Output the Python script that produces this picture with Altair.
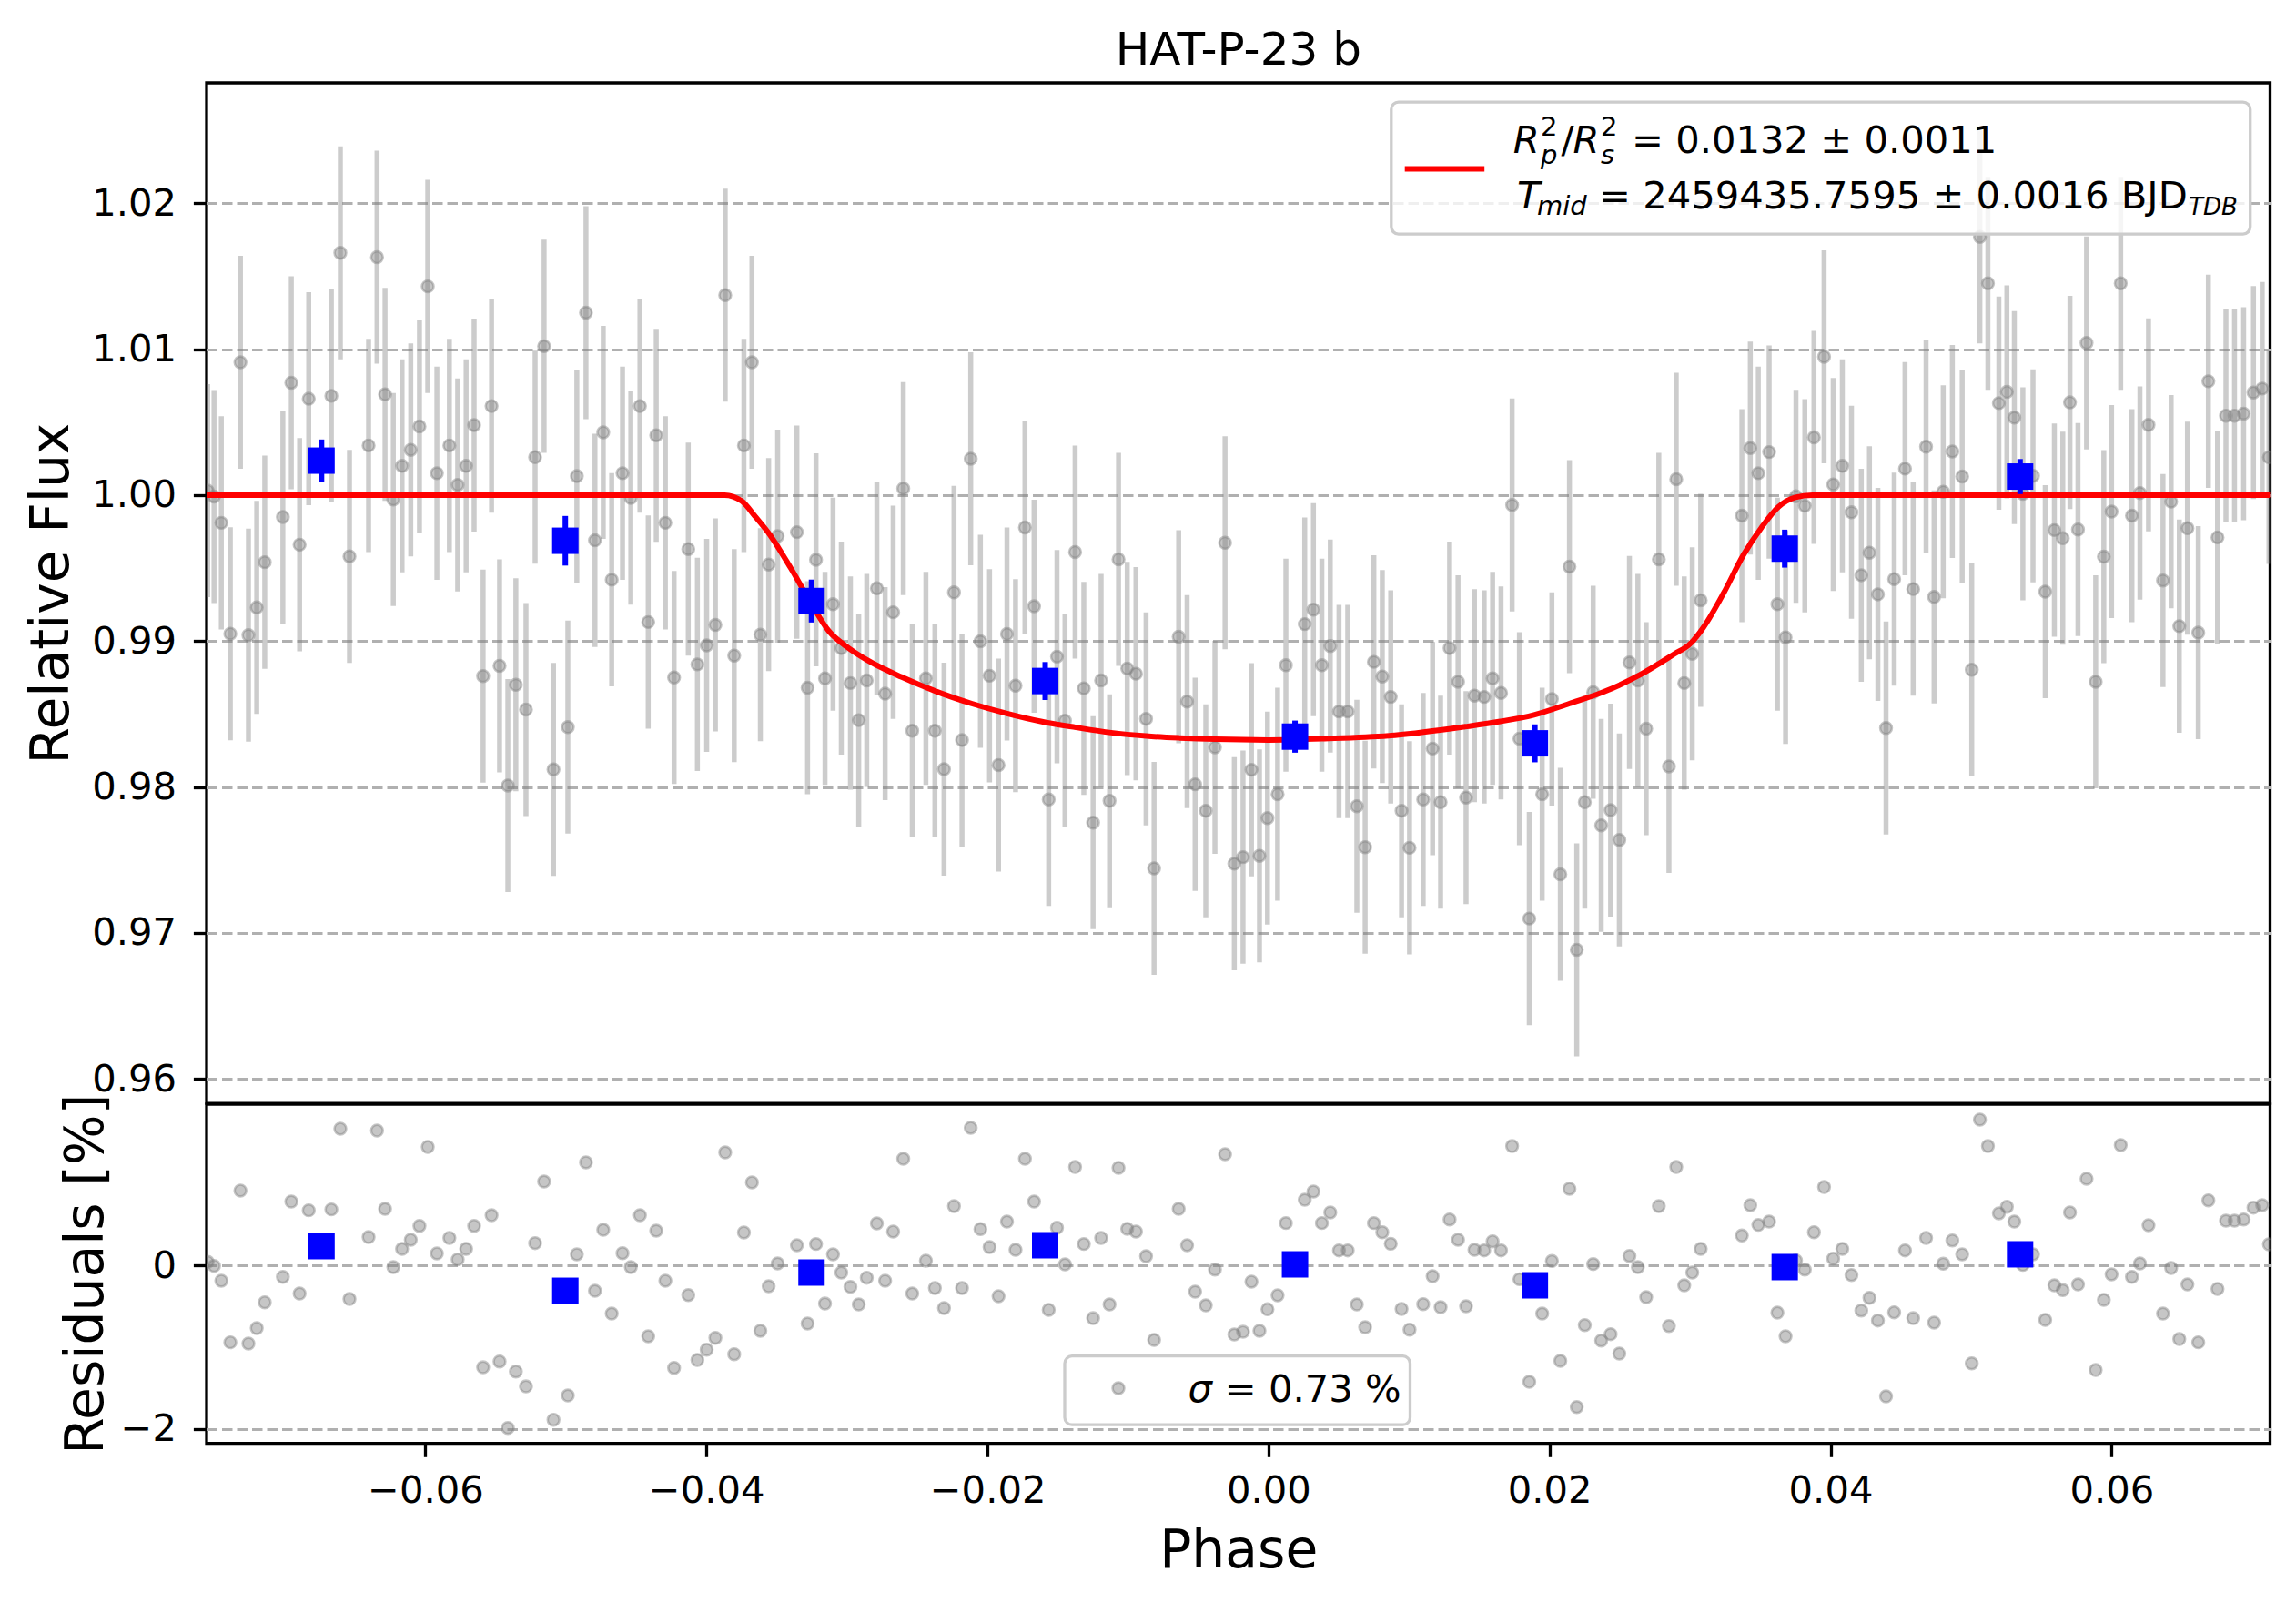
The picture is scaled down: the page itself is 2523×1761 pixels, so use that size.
import altair as alt
import pandas as pd

# ---------------- data ----------------
phase = [
    -0.07549, -0.07504, -0.07452, -0.07388, -0.07316, -0.07259, -0.07200, -0.07143, -0.07014, -0.06954,
    -0.06895, -0.06830, -0.06669, -0.06605, -0.06540, -0.06404, -0.06344, -0.06287, -0.06228, -0.06166,
    -0.06104, -0.06042, -0.05983, -0.05918, -0.05829, -0.05770, -0.05710, -0.05653, -0.05589, -0.05529,
    -0.05472, -0.05413, -0.05356, -0.05284, -0.05219, -0.05155, -0.05088, -0.04986, -0.04922, -0.04857,
    -0.04793, -0.04734, -0.04674, -0.04597, -0.04538, -0.04473, -0.04414, -0.04357, -0.04292, -0.04230,
    -0.04129, -0.04064, -0.03998, -0.03936, -0.03866, -0.03802,
    -0.03733, -0.03676, -0.03616, -0.03557, -0.03493, -0.03356, -0.03280, -0.03220, -0.03156, -0.03099,
    -0.03040, -0.02975, -0.02916, -0.02859, -0.02787, -0.02728, -0.02671, -0.02599, -0.02535, -0.02438,
    -0.02374, -0.02309, -0.02238, -0.02181, -0.02119, -0.02050, -0.01985, -0.01921, -0.01861, -0.01800,
    -0.01733, -0.01668, -0.01564, -0.01505, -0.01448, -0.01376, -0.01314, -0.01248, -0.01191, -0.01131,
    -0.01067, -0.01005, -0.00943, -0.00871, -0.00814, -0.00639, -0.00579, -0.00522, -0.00446, -0.00381,
    -0.00309, -0.00243, -0.00181, -0.00121, -0.00064, -0.00007,
    0.00065, 0.00124, 0.00258, 0.00320, 0.00380, 0.00440, 0.00502, 0.00564, 0.00629, 0.00688,
    0.00750, 0.00810, 0.00870, 0.00947, 0.01004, 0.01101, 0.01168, 0.01225, 0.01289, 0.01349,
    0.01406, 0.01466, 0.01535, 0.01595, 0.01655, 0.01734, 0.01786, 0.01856, 0.01948, 0.02017,
    0.02077, 0.02142, 0.02194, 0.02251, 0.02311, 0.02368, 0.02435, 0.02497, 0.02569, 0.02629,
    0.02688, 0.02778, 0.02850, 0.02902, 0.02959, 0.03016, 0.03076, 0.03369, 0.03429, 0.03486,
    0.03563, 0.03622, 0.03680,
    0.03754, 0.03817, 0.03882, 0.03954, 0.04019, 0.04084, 0.04149, 0.04219, 0.04277, 0.04337,
    0.04395, 0.04453, 0.04530, 0.04588, 0.04680, 0.04737, 0.04802, 0.04867, 0.04937, 0.05005,
    0.05063, 0.05120, 0.05198, 0.05255, 0.05308, 0.05369, 0.05441, 0.05528, 0.05593, 0.05653,
    0.05704, 0.05761, 0.05822, 0.05887, 0.05945, 0.06000, 0.06065, 0.06145, 0.06202, 0.06263,
    0.06366, 0.06424, 0.06482, 0.06540, 0.06617, 0.06689, 0.06754, 0.06814, 0.06875, 0.06940,
    0.07010, 0.07072, 0.07120,
]

flux = [
    1.0003, 0.9999, 0.9981, 0.9905, 1.0091, 0.9904, 0.9923, 0.9954, 0.9985, 1.0077,
    0.9966, 1.0066, 1.0068, 1.0166, 0.9958, 1.0034, 1.0163, 1.0069, 0.9997, 1.0020,
    1.0031, 1.0047, 1.0143, 1.0015, 1.0034, 1.0007, 1.0020, 1.0048, 0.9876, 1.0061,
    0.9883, 0.9801, 0.9870, 0.9853, 1.0026, 1.0102, 0.9812, 0.9841, 1.0013, 1.0125,
    0.9969, 1.0043, 0.9942, 1.0015, 0.9998, 1.0061, 0.9913, 1.0041, 0.9981, 0.9875,
    0.9963, 0.9884, 0.9897, 0.9911, 1.0137, 0.9890,
    1.0034, 1.0091, 0.99043, 0.99524, 0.99719, 0.99746, 0.98680, 0.99556, 0.98744, 0.99252,
    0.98952, 0.98712, 0.98458, 0.98730, 0.99361, 0.98639, 0.99197, 1.00045, 0.98385, 0.98744,
    0.98385, 0.98122, 0.99333, 0.98322, 1.00249, 0.98998, 0.98762, 0.98150, 0.99048, 0.98694,
    0.99778, 0.99238, 0.97914, 0.98893, 0.98454, 0.99610, 0.98676, 0.97755, 0.98730, 0.97905,
    0.99560, 0.98812, 0.98776, 0.98467, 0.97442, 0.99029, 0.98585, 0.98018, 0.97837, 0.98272,
    0.99673, 0.97474, 0.97519, 0.98118, 0.97528, 0.97787,
    0.97950, 0.98834, 0.99116, 0.99215, 0.98834, 0.98966, 0.98517, 0.98517, 0.97868, 0.97587,
    0.98857, 0.98757, 0.98617, 0.97837, 0.97583, 0.97914, 0.98263, 0.97896, 0.98952, 0.98721,
    0.97927, 0.98626, 0.98617, 0.98744, 0.98644, 0.99932, 0.98331, 0.97098, 0.97950, 0.98603,
    0.97401, 0.99510, 0.96884, 0.97896, 0.98649, 0.97737, 0.97841, 0.97637, 0.98853, 0.98730,
    0.98399, 0.99560, 0.98141, 1.00109, 0.98712, 0.98912, 0.99279, 0.99859, 1.00322, 1.00150,
    1.00295, 0.99252, 0.99025,
    0.99991, 0.99927, 1.00395, 1.00948, 1.00073, 1.00200, 0.99882, 0.99451, 0.99605, 0.99320,
    0.98404, 0.99424, 1.00181, 0.99356, 1.00331, 0.99302, 1.00023, 1.00299, 1.00127, 0.98803,
    1.01769, 1.01451, 1.00630, 1.00707, 1.00531, 1.00009, 1.00132, 0.99338, 0.99760, 0.99705,
    1.00635, 0.99764, 1.01043, 0.98721, 0.99578, 0.99887, 1.01451, 0.99859, 1.00014, 1.00481,
    0.99415, 0.99955, 0.99102, 0.99773, 0.99057, 1.00780, 0.99710, 1.00544, 1.00544, 1.00558,
    1.00703, 1.00730, 1.00259,
]

resid = [
    0.041, -0.007, -0.189, -0.942, 0.913, -0.957, -0.768, -0.453, -0.141, 0.779,
    -0.345, 0.672, 0.683, 1.670, -0.412, 0.345, 1.647, 0.690, -0.022, 0.200,
    0.312, 0.482, 1.447, 0.145, 0.334, 0.071, 0.200, 0.482, -1.247, 0.612,
    -1.176, -1.989, -1.299, -1.481, 0.271, 1.024, -1.889, -1.592, 0.134, 1.258,
    -0.312, 0.434, -0.590, 0.148, -0.022, 0.612, -0.868, 0.423, -0.189, -1.254,
    -0.364, -1.158, -1.032, -0.887, 1.380, -1.087,
    0.401, 1.013, -0.801, -0.256, 0.022, 0.245, -0.712, 0.260, -0.468, 0.134,
    -0.089, -0.263, -0.479, -0.152, 0.512, -0.189, 0.412, 1.302, -0.345, 0.056,
    -0.278, -0.523, 0.724, -0.278, 1.681, 0.442, 0.223, -0.378, 0.534, 0.189,
    1.302, 0.779, -0.545, 0.460, 0.011, 1.202, 0.260, -0.646, 0.334, -0.479,
    1.191, 0.445, 0.412, 0.111, -0.913, 0.690, 0.245, -0.323, -0.490, -0.052,
    1.358, -0.846, -0.813, -0.200, -0.801, -0.538,
    -0.367, 0.516, 0.801, 0.902, 0.516, 0.646, 0.182, 0.182, -0.479, -0.757,
    0.516, 0.404, 0.263, -0.534, -0.787, -0.475, -0.134, -0.512, 0.560, 0.312,
    -0.501, 0.189, 0.182, 0.293, 0.182, 1.458, -0.171, -1.425, -0.590, 0.052,
    -1.169, 0.935, -1.733, -0.731, 0.015, -0.920, -0.842, -1.080, 0.115, -0.022,
    -0.390, 0.724, -0.742, 1.202, -0.245, -0.089, 0.200, 0.364, 0.735, 0.494,
    0.534, -0.579, -0.868,
    0.059, -0.052, 0.404, 0.957, 0.082, 0.200, -0.119, -0.553, -0.397, -0.675,
    -1.603, -0.575, 0.182, -0.646, 0.334, -0.701, 0.019, 0.304, 0.134, -1.199,
    1.781, 1.458, 0.635, 0.716, 0.534, 0.004, 0.134, -0.668, -0.245, -0.304,
    0.646, -0.234, 1.058, -1.280, -0.423, -0.111, 1.469, -0.141, 0.022, 0.490,
    -0.590, -0.033, -0.902, -0.234, -0.942, 0.794, -0.289, 0.545, 0.545, 0.560,
    0.705, 0.735, 0.256,
]

flux_err = 0.0073

model_phase = [-0.0756, -0.0387, -0.0375, -0.0365, -0.0355, -0.0340, -0.0325, -0.0313, -0.0300,
               -0.0285, -0.0261, -0.0236, -0.0211, -0.0186, -0.0162, -0.0137, -0.0112, -0.0087,
               -0.0063, -0.0038, 0.0, 0.0040, 0.0090, 0.0140, 0.0165, 0.0189, 0.0214, 0.0239,
               0.0264, 0.0289, 0.0300, 0.0310, 0.0324, 0.0338, 0.0351, 0.0363, 0.0375, 0.0387, 0.0713]
model_flux = [1.0, 1.0, 0.9996, 0.9985, 0.9973, 0.9950, 0.9925, 0.9907, 0.9896,
              0.98866, 0.98753, 0.98653, 0.98571, 0.98503, 0.98449, 0.98408, 0.98372, 0.98349,
              0.98336, 0.98327, 0.98322, 0.98331, 0.98354, 0.98413, 0.98449, 0.98494, 0.98571, 0.98653,
              0.98766, 0.98912, 0.98980, 0.99100, 0.99330, 0.99590, 0.99780, 0.99920, 0.99985, 1.0, 1.0]

bin_phase = [-0.06739, -0.05004, -0.03252, -0.01589, 0.00189, 0.01896, 0.03674, 0.05349]
bin_flux = [1.00236, 0.99687, 0.99274, 0.98726, 0.98345, 0.98299, 0.99633, 1.00127]
bin_err = [0.00145, 0.0017, 0.00147, 0.0013, 0.0011, 0.0013, 0.0013, 0.0012]
bin_resid = [0.234, -0.312, -0.089, 0.245, 0.011, -0.245, -0.022, 0.134]

x_ticks = [-0.06, -0.04, -0.02, 0.0, 0.02, 0.04, 0.06]
y_ticks = [0.96, 0.97, 0.98, 0.99, 1.00, 1.01, 1.02]
r_ticks = [-2, 0]

x_domain = [-0.07557, 0.07128]
y_domain = [0.95832, 1.02825]
r_domain = [-2.178, 1.970]

# ---------------- tables ----------------
pts = pd.DataFrame({"phase": phase, "flux": flux, "resid": resid})
pts["lo"] = pts["flux"] - flux_err
pts["hi"] = pts["flux"] + flux_err
model = pd.DataFrame({"phase": model_phase, "flux": model_flux})
bins = pd.DataFrame({"phase": bin_phase, "flux": bin_flux, "err": bin_err, "resid": bin_resid})
bins["lo"] = bins["flux"] - bins["err"]
bins["hi"] = bins["flux"] + bins["err"]
one = pd.DataFrame({"k": [0]})

W, H1, H2 = 2267.5, 1121.1, 372.7
FONT = "DejaVu Sans"
FS = 41.7

xs = alt.Scale(domain=x_domain, nice=False, zero=False)
ys = alt.Scale(domain=y_domain, nice=False, zero=False)
rs = alt.Scale(domain=r_domain, nice=False, zero=False)

y_axis_top = alt.Axis(values=y_ticks, format=".2f", grid=True, title="Relative Flux",
                      titleX=-152.5, titleBaseline="alphabetic", titleAlign="center",
                      labelPadding=18.9)
r_axis = alt.Axis(values=r_ticks, format="d", grid=True, title="Residuals [%]",
                  titleX=-114.5, titleBaseline="alphabetic", titleAlign="center",
                  labelPadding=18.9)
x_axis_bot = alt.Axis(values=x_ticks, format=".2f", grid=False, title="Phase",
                      titleY=135.4, titleBaseline="alphabetic", labelPadding=16.9)

x_top = alt.X("phase:Q", scale=xs, axis=None)

PT = dict(size=165, color="gray", opacity=1, fillOpacity=0.45,
          stroke="gray", strokeOpacity=0.45, strokeWidth=2.6)


def txt(s, x, y, size=FS, italic=False):
    return alt.Chart(one).mark_text(
        text=s, font=FONT, fontSize=size, fontStyle="italic" if italic else "normal",
        align="left", baseline="alphabetic", color="black"
    ).encode(x=alt.value(x), y=alt.value(y))


# ---------------- top panel ----------------
ebars = alt.Chart(pts).mark_rule(color="gray", strokeOpacity=0.4, strokeWidth=5.5, clip=True).encode(
    x=x_top, y=alt.Y("lo:Q", scale=ys, axis=y_axis_top), y2="hi:Q")
pts_top = alt.Chart(pts).mark_circle(clip=True, **PT).encode(
    x=x_top, y=alt.Y("flux:Q", scale=ys, axis=y_axis_top))
line = alt.Chart(model).mark_line(color="red", strokeWidth=6, clip=True, interpolate="monotone").encode(
    x=x_top, y=alt.Y("flux:Q", scale=ys, axis=y_axis_top))
bin_bars = alt.Chart(bins).mark_rule(color="blue", strokeWidth=6, clip=True).encode(
    x=x_top, y=alt.Y("lo:Q", scale=ys, axis=y_axis_top), y2="hi:Q")
bin_sq = alt.Chart(bins).mark_square(size=841, color="blue", opacity=1, clip=True).encode(
    x=x_top, y=alt.Y("flux:Q", scale=ys, axis=y_axis_top))

leg_box = alt.Chart(one).mark_rect(fill="white", fillOpacity=0.8, stroke="#cccccc", strokeWidth=3.3,
                                   cornerRadius=8).encode(
    x=alt.value(1301.8), x2=alt.value(2245.7), y=alt.value(21.1), y2=alt.value(166.1))
leg_line = alt.Chart(one).mark_rule(color="red", strokeWidth=6).encode(
    x=alt.value(1316.7), x2=alt.value(1404.2), y=alt.value(94.5))

legend_top = [
    leg_box, leg_line,
    txt("R", 1435.8, 77.3, italic=True),
    txt("2", 1466, 58, size=29),
    txt("p", 1466, 89, size=29, italic=True),
    txt("/", 1488.5, 77.3),
    txt("R", 1501.5, 77.3, italic=True),
    txt("2", 1532, 58, size=29),
    txt("s", 1532, 89, size=29, italic=True),
    txt("= 0.0132 ± 0.0011", 1566, 77.3),
    txt("T", 1440, 137.8, italic=True),
    txt("mid", 1462, 145, size=29, italic=True),
    txt("= 2459435.7595 ± 0.0016 BJD", 1530, 137.8),
    txt("TDB", 2178, 145, size=26, italic=True),
]

top = alt.layer(ebars, pts_top, line, bin_bars, bin_sq, *legend_top).properties(
    width=W, height=H1,
    title=alt.TitleParams("HAT-P-23 b", font=FONT, fontSize=50, fontWeight="normal", color="black",
                          anchor="middle", frame="group", baseline="alphabetic", offset=-30))

# ---------------- bottom panel ----------------
x_bot = alt.X("phase:Q", scale=xs, axis=x_axis_bot)
pts_bot = alt.Chart(pts).mark_circle(clip=True, **PT).encode(
    x=x_bot, y=alt.Y("resid:Q", scale=rs, axis=r_axis))
bin_sq_bot = alt.Chart(bins).mark_square(size=841, color="blue", opacity=1, clip=True).encode(
    x=x_bot, y=alt.Y("resid:Q", scale=rs, axis=r_axis))

leg2_box = alt.Chart(one).mark_rect(fill="white", fillOpacity=0.8, stroke="#cccccc", strokeWidth=3.3,
                                    cornerRadius=8).encode(
    x=alt.value(943), x2=alt.value(1322.5), y=alt.value(276.7), y2=alt.value(352.2))
leg2_mark = alt.Chart(one).mark_circle(**PT).encode(x=alt.value(1002), y=alt.value(312))

bottom = alt.layer(pts_bot, bin_sq_bot, leg2_box, leg2_mark,
                   txt("σ", 1078.5, 326.7, italic=True),
                   txt("= 0.73 %", 1118.8, 326.7)).properties(width=W, height=H2)

chart = alt.vconcat(top, bottom, spacing=0, bounds="flush").resolve_scale(
    x="independent", y="independent"
).properties(
    padding={"left": 17, "top": 21, "right": 10, "bottom": 10},
    background="white",
).configure_view(
    stroke="black", strokeWidth=3.3
).configure_axis(
    domain=False, ticks=True, tickColor="black", tickWidth=3.3, tickSize=14.6,
    labelFont=FONT, labelFontSize=FS, labelColor="black", labelFlush=False, labelOverlap=False,
    titleFont=FONT, titleFontSize=58.3, titleFontWeight="normal", titleColor="black",
    gridColor="#b0b0b0", gridDash=[11.5, 5], gridWidth=3,
)

chart.save("out.html", embed_options={"renderer": "svg", "actions": False})
